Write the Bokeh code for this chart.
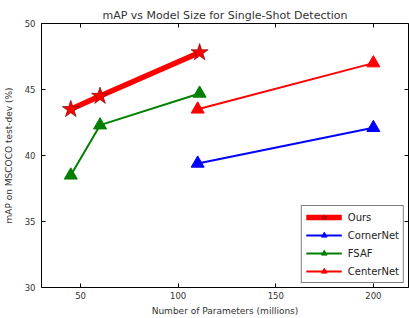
from bokeh.plotting import figure
from bokeh.embed import file_html
from bokeh.resources import INLINE
from bokeh.models import Range1d, Legend, LegendItem, FixedTicker, LinearAxis

# Data
ours_x = [45, 60, 111]
ours_y = [43.5, 44.5, 47.8]
cornernet_x = [110, 200]
cornernet_y = [39.4, 42.1]
fsaf_x = [45, 60, 111]
fsaf_y = [38.5, 42.3, 44.7]
centernet_x = [110, 200]
centernet_y = [43.5, 47.0]

x_ticks = [50, 100, 150, 200]
y_ticks = [30, 35, 40, 45, 50]

FONT = "DejaVu Sans"

p = figure(width=409, height=318, output_backend="svg", toolbar_location=None,
           x_range=Range1d(30, 218), y_range=Range1d(30, 50),
           title="mAP vs Model Size for Single-Shot Detection",
           min_border_left=41, min_border_right=1, min_border_top=23, min_border_bottom=30)

p.title.text_font = FONT
p.title.text_font_size = "11px"
p.title.text_font_style = "normal"
p.title.align = "center"
p.title.text_color = "#333333"
p.title.offset = 0
p.title.standoff = 3

p.outline_line_color = "black"
p.outline_line_width = 1
p.grid.visible = False
p.background_fill_color = "white"

p.xaxis.ticker = FixedTicker(ticks=x_ticks)
p.yaxis.ticker = FixedTicker(ticks=y_ticks)
for ax in (p.xaxis, p.yaxis):
    ax.axis_line_color = None
    ax.major_tick_in = 4
    ax.major_tick_out = 0
    ax.minor_tick_line_color = None
    ax.major_label_text_font = FONT
    ax.major_label_text_font_size = "8.5px"
    ax.major_label_text_color = "#333333"
    ax.axis_label_text_font = FONT
    ax.axis_label_text_font_size = "9px"
    ax.axis_label_text_font_style = "normal"
    ax.axis_label_text_color = "#333333"
p.xaxis.axis_label = "Number of Parameters (millions)"
p.yaxis.axis_label = "mAP on MSCOCO test-dev (%)"
p.xaxis.major_label_standoff = 4
p.xaxis.axis_label_standoff = 4
p.yaxis.major_label_standoff = 6
p.yaxis.axis_label_standoff = 8

# inward ticks on the top and right edges (matplotlib classic look)
for ticks, side in ((x_ticks, "above"), (y_ticks, "right")):
    ax = LinearAxis(ticker=FixedTicker(ticks=ticks), axis_line_color=None,
                    major_tick_in=4, major_tick_out=0, minor_tick_line_color=None,
                    major_label_text_font_size="0px", major_label_text_color=None,
                    major_label_standoff=0)
    p.add_layout(ax, side)

RED = "#ff0000"
BLUE = "#0000ff"
GREEN = "#008000"

l1 = p.line(ours_x, ours_y, line_color=RED, line_width=5.5)
s1 = p.scatter(ours_x, ours_y, marker="star", size=18, fill_color=RED, line_color="#7a1010", line_width=0.7)

l2 = p.line(cornernet_x, cornernet_y, line_color=BLUE, line_width=2)
s2 = p.scatter(cornernet_x, cornernet_y, marker="triangle", size=13, fill_color=BLUE, line_color=BLUE)

l3 = p.line(fsaf_x, fsaf_y, line_color=GREEN, line_width=2)
s3 = p.scatter(fsaf_x, fsaf_y, marker="triangle", size=13, fill_color=GREEN, line_color=GREEN)

l4 = p.line(centernet_x, centernet_y, line_color=RED, line_width=2)
s4 = p.scatter(centernet_x, centernet_y, marker="triangle", size=13, fill_color=RED, line_color=RED)

legend = Legend(items=[
    LegendItem(label="Ours", renderers=[l1, s1]),
    LegendItem(label="CornerNet", renderers=[l2, s2]),
    LegendItem(label="FSAF", renderers=[l3, s3]),
    LegendItem(label="CenterNet", renderers=[l4, s4]),
], location="bottom_right")
legend.label_text_font = FONT
legend.label_text_font_size = "10px"
legend.label_text_color = "#222222"
legend.border_line_color = "black"
legend.border_line_width = 1
legend.glyph_width = 36
legend.glyph_height = 14
legend.label_height = 14
legend.spacing = 4
legend.padding = 4
legend.margin = 4
legend.label_standoff = 6
p.add_layout(legend)

open("out.html", "w").write(file_html(p, INLINE))
